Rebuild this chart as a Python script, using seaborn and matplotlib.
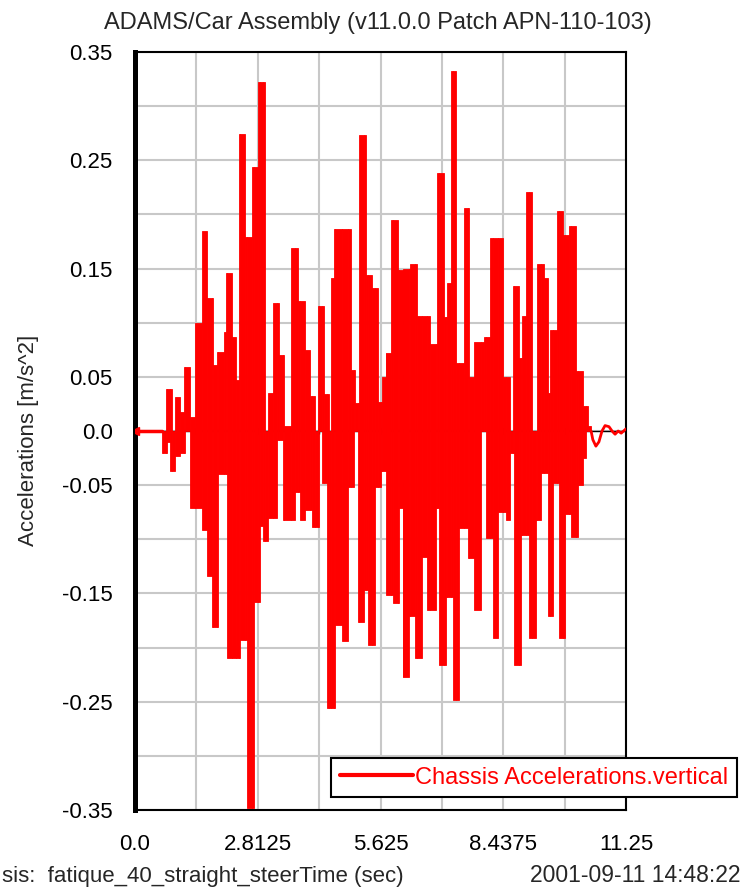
import numpy as np
import pandas as pd
import matplotlib
matplotlib.use('Agg')
import matplotlib.pyplot as plt
import seaborn as sns

sns.set_style('white')
plt.rcParams['font.family'] = ['Liberation Sans', 'DejaVu Sans']

# ===== data =====
# upper envelope of the signal (step starts, sec) and its value
t_hi = [0.64, 0.71, 0.85, 0.92, 1.03, 1.13, 1.26, 1.38, 1.54, 1.65, 1.79, 1.88,
        2.04, 2.09, 2.23, 2.32, 2.39, 2.53, 2.69, 2.82, 2.99, 3.05, 3.17, 3.31,
        3.42, 3.58, 3.74, 3.90, 4.00, 4.13, 4.20, 4.34, 4.45, 4.50, 4.57, 4.94,
        5.05, 5.14, 5.30, 5.44, 5.56, 5.65, 5.74, 5.86, 6.02, 6.15, 6.31, 6.45,
        6.77, 6.93, 7.07, 7.16, 7.23, 7.35, 7.53, 7.65, 7.76, 7.99, 8.13, 8.43,
        8.59, 8.66, 8.79, 8.86, 8.95, 9.09, 9.21, 9.37, 9.46, 9.51, 9.67, 9.80,
        9.94, 10.10, 10.26, 10.38, 10.45]
v_hi = [0.0, 0.039, 0.0, 0.031, 0.018, 0.059, 0.013, 0.100, 0.185, 0.123, 0.061, 0.073,
        0.091, 0.146, 0.087, 0.047, 0.274, 0.179, 0.244, 0.322, 0.0, 0.035, 0.118, 0.070,
        0.005, 0.169, 0.120, 0.075, 0.032, 0.0, 0.115, 0.034, 0.0, 0.141, 0.187, 0.056,
        0.026, 0.273, 0.144, 0.132, 0.027, 0.050, 0.072, 0.195, 0.149, 0.150, 0.154, 0.106,
        0.080, 0.238, 0.105, 0.137, 0.332, 0.063, 0.206, 0.050, 0.082, 0.087, 0.178, 0.050,
        0.0, 0.134, 0.067, 0.106, 0.221, 0.0, 0.154, 0.141, 0.035, 0.093, 0.203, 0.181,
        0.189, 0.055, 0.023, 0.005, 0.0]

# lower envelope
t_lo = [0.62, 0.74, 0.80, 0.92, 1.03, 1.15, 1.26, 1.54, 1.65, 1.77, 1.91, 2.11,
        2.41, 2.57, 2.73, 2.87, 2.94, 3.05, 3.26, 3.40, 3.67, 3.79, 3.90, 4.06,
        4.22, 4.29, 4.41, 4.59, 4.75, 4.89, 5.01, 5.10, 5.24, 5.35, 5.51, 5.63,
        5.76, 5.92, 6.06, 6.13, 6.27, 6.41, 6.57, 6.70, 6.89, 6.96, 7.12, 7.28,
        7.42, 7.62, 7.76, 7.92, 8.04, 8.20, 8.31, 8.50, 8.59, 8.68, 8.84, 9.02,
        9.18, 9.30, 9.46, 9.57, 9.71, 9.85, 9.99, 10.15, 10.26, 10.33, 10.45]
v_lo = [-0.020, -0.010, -0.037, -0.023, -0.020, 0.0, -0.071, -0.091, -0.134, -0.181, -0.040, -0.210,
        -0.193, -0.348, -0.158, -0.088, -0.102, -0.080, -0.008, -0.082, -0.056, -0.082, -0.073, -0.089,
        0.0, -0.048, -0.256, -0.179, -0.194, -0.052, 0.0, -0.176, -0.147, -0.198, -0.052, -0.037,
        -0.151, -0.159, -0.071, -0.227, -0.171, -0.210, -0.116, -0.165, -0.071, -0.216, -0.153, -0.248,
        -0.090, -0.117, -0.165, 0.0, -0.099, -0.191, -0.075, -0.082, -0.020, -0.216, -0.096, -0.191,
        -0.082, -0.039, -0.171, -0.048, -0.191, -0.077, -0.098, -0.050, -0.025, 0.0, 0.0]

# quiet parts before and after
t_lead = [0.0, 0.62]
v_lead = [0.0, 0.0]
t_tail = [10.45, 10.49, 10.56, 10.63, 10.70, 10.77, 10.86, 10.93, 11.00, 11.07, 11.14, 11.25]
v_tail = [0.0, -0.008, -0.014, -0.010, 0.0, 0.005, 0.004, 0.0, -0.003, 0.0, -0.002, 0.002]

x_ticks = [0.0, 1.40625, 2.8125, 4.21875, 5.625, 7.03125, 8.4375, 9.84375, 11.25]
x_labels = ['0.0', '', '2.8125', '', '5.625', '', '8.4375', '', '11.25']
y_ticks = [-0.35, -0.3, -0.25, -0.2, -0.15, -0.1, -0.05, 0.0, 0.05, 0.1, 0.15, 0.2, 0.25, 0.3, 0.35]
y_labels = ['-0.35', '', '-0.25', '', '-0.15', '', '-0.05', '0.0', '0.05', '', '0.15', '', '0.25', '', '0.35']

# step envelopes on a common time axis
hi = pd.Series(v_hi, index=t_hi)
lo = pd.Series(v_lo, index=t_lo)
t_all = sorted(set(t_hi) | set(t_lo))
env = pd.DataFrame({'hi': hi.reindex(t_all).ffill().fillna(0.0),
                    'lo': lo.reindex(t_all).ffill().fillna(0.0)})
env.index.name = 't'
env = env.reset_index()
env['dt'] = env['t'].diff().shift(-1).fillna(0.0)
env = env[env['dt'] > 0]

# ===== plot =====
fig = plt.figure(figsize=(7.52, 8.88), dpi=100)
ax = fig.add_axes([135 / 752, 1 - 810 / 888, 491 / 752, 758 / 888])

RED = '#ff0000'
ax.axhline(0, color='black', lw=1, zorder=1)
ax.plot(x_ticks, [0] * len(x_ticks), '|', color='black', ms=5, zorder=1)

# filled band between the two envelopes
ax.bar(env['t'], env['hi'] - env['lo'], bottom=env['lo'], width=env['dt'], align='edge',
       color=RED, edgecolor=RED, lw=0.6, zorder=3)
sns.lineplot(x=t_lead, y=v_lead, ax=ax, color=RED, lw=2.5, estimator=None, sort=False,
             zorder=3, label='Chassis Accelerations.vertical')
sns.lineplot(x=t_tail, y=v_tail, ax=ax, color=RED, lw=2, estimator=None, sort=False, zorder=3)
ax.plot([0.0], [0.0], marker='<', color=RED, ms=6, zorder=4)

ax.set_xlim(0, 11.25)
ax.set_ylim(-0.35, 0.35)
ax.set_xticks(x_ticks)
ax.set_xticklabels(x_labels)
ax.set_yticks(y_ticks)
ax.set_yticklabels(y_labels)
ax.grid(True, color='#c8c8c8', lw=1.5, zorder=0)
ax.set_axisbelow(True)
ax.tick_params(axis='both', direction='out', length=6, width=1.2, colors='black',
               labelsize=16)
ax.tick_params(axis='y', pad=10)
ax.tick_params(axis='x', pad=11)
ax.set_xlabel('')
ax.set_ylabel('')

for side in ['top', 'right', 'bottom']:
    ax.spines[side].set_color('black')
    ax.spines[side].set_linewidth(1.5)
ax.spines['left'].set_color('black')
ax.spines['left'].set_linewidth(3.6)

leg = ax.legend(loc='center', bbox_to_anchor=(534 / 752, 1 - 777.5 / 888),
                bbox_transform=fig.transFigure, frameon=True, fancybox=False,
                framealpha=1, edgecolor='black', fontsize=17, handlelength=3.1,
                borderpad=0.35, handletextpad=0.1, borderaxespad=0)
leg.get_frame().set_linewidth(1.5)
for txt in leg.get_texts():
    txt.set_color(RED)
for line in leg.get_lines():
    line.set_linewidth(3)

fig.text(378 / 752, 1 - 29 / 888, 'ADAMS/Car Assembly (v11.0.0 Patch APN-110-103)',
         ha='center', va='baseline', fontsize=17)
fig.text(29 / 752, 1 - 440 / 888, 'Accelerations [m/s^2]', rotation=90,
         ha='center', va='center', fontsize=16)
fig.text(2 / 752, 1 - 882 / 888, 'sis:  fatique_40_straight_steerTime (sec)',
         ha='left', va='baseline', fontsize=16)
fig.text(740 / 752, 1 - 882 / 888, '2001-09-11 14:48:22',
         ha='right', va='baseline', fontsize=16.5)

fig.savefig('out.png', dpi=100)
